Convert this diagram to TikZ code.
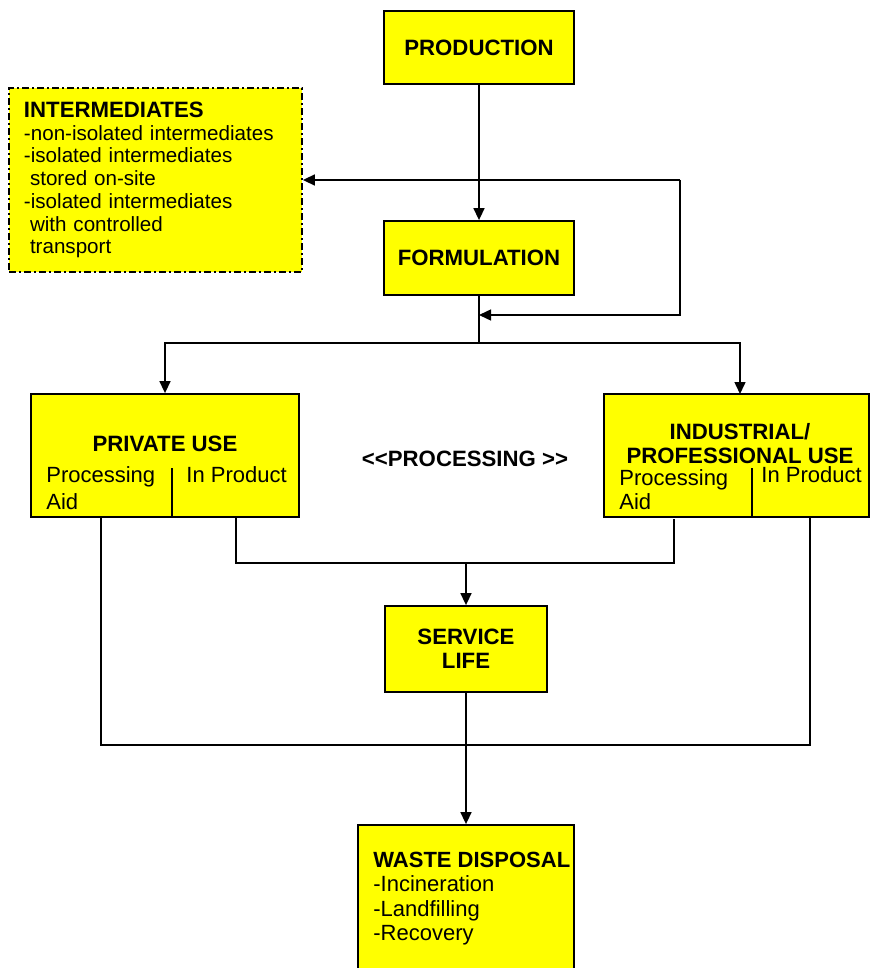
\documentclass[tikz,border=0pt]{standalone}
\usepackage{fontspec}
\setmainfont{Liberation Sans}
\usetikzlibrary{arrows.meta, positioning}
\definecolor{BoxYellow}{RGB}{255,255,0}
\tikzset{
  >={Triangle[length=6pt,width=5.5pt]},
  % Riquadri
  box/.style={draw=black,line width=0.9pt,fill=BoxYellow,inner sep=0pt},
  box dashdot/.style={box,dash pattern=on 3.5pt off 1.5pt on 1pt off 1.5pt},
  % Testi
  head/.style={inner sep=0pt,font=\fontsize{11.1}{12}\selectfont\bfseries},
  body/.style={inner sep=0pt,font=\fontsize{11}{12}\selectfont},
  % Connessioni
  wire/.style={line width=0.75pt},
  link/.style={wire,->}
}

\begin{document}
\begin{tikzpicture}[x=0.5pt,y=-0.5pt]
    \useasboundingbox (0,0) rectangle (870,968);
    % fasi principali
    \node[box,head,minimum width=95pt,minimum height=36.5pt] (prod) at (479,47.5) {PRODUCTION};
    \node[box,head,minimum width=95pt,minimum height=37pt] (form) at (479,258) {FORMULATION};
    \node[box dashdot,minimum width=146.5pt,minimum height=92pt,text width=131.5pt,align=left,inner xsep=7.5pt,
          font=\fontsize{10.3}{11.35}\selectfont] (inter) at (155.5,180)
      {{\fontsize{11.1}{11.35}\selectfont\bfseries INTERMEDIATES}\\-non-isolated intermediates\\-isolated intermediates\\
       \hspace*{3pt}stored on-site\\-isolated intermediates\\\hspace*{3pt}with controlled\\\hspace*{3pt}transport};
    \node[box,minimum width=134pt,minimum height=61.5pt] (priv) at (165,455.5) {};
    \node[box,minimum width=132.5pt,minimum height=61.5pt] (indu) at (736.5,455.5) {};
    \node[box,head,align=center,minimum width=81pt,minimum height=43pt] (serv) at (466,649) {SERVICE\\LIFE};
    \node[box,minimum width=108pt,minimum height=80pt] (waste) at (466,905) {};
    % testi interni
    \node[head] (privT) at (165,444) {PRIVATE USE};
    \node[body,anchor=west,align=left,font=\fontsize{11}{13.5}\selectfont] (privA) at (46,488.5) {Processing\\Aid};
    \node[body,anchor=west] (privP) at (186,475) {In Product};
    \node[head,align=center] (induT) at (740,444) {INDUSTRIAL/\\PROFESSIONAL USE};
    \node[body,anchor=west,align=left] (induA) at (619,490) {Processing\\Aid};
    \node[body,anchor=west] (induP) at (761,475) {In Product};
    \node[head] (procT) at (465,459) {<{}<PROCESSING >{}>};
    \node[body,anchor=west,align=left,font=\fontsize{11}{12.2}\selectfont] (wasteT) at (373,898.5)
      {{\bfseries WASTE DISPOSAL}\\-Incineration\\-Landfilling\\-Recovery};
    \coordinate (privDiv) at (172,468);
    \coordinate (induDiv) at (752,468);
    \draw[wire] (privDiv) -- (privDiv |- priv.south);
    \draw[wire] (induDiv) -- (induDiv |- indu.south);
    % collegamenti
    \coordinate (loopTop) at (680,180);
    \coordinate (loopBot) at (680,315);
    \coordinate (split) at (479,343);
    \coordinate (induIn) at (740,394);
    \draw[link] (prod) -- (form);
    \draw[link] (loopTop) -- (inter.east);
    \draw[link] (loopTop) -- (loopBot) -- (form.south |- loopBot);
    \draw[wire] (form) -- (split);
    \draw[link] (split) -| (priv);
    \draw[link] (split) -| (induIn);
    \coordinate (privAid) at (101,517);
    \coordinate (privProd) at (236,517);
    \coordinate (induAid) at (674,519);
    \coordinate (induProd) at (810,517);
    \coordinate (merge) at (466,563);
    \coordinate (collect) at (466,745);
    \draw[wire] (privProd) |- (merge) -| (induAid);
    \draw[link] (merge) -- (serv);
    \draw[wire] (privAid) |- (collect) -| (induProd);
    \draw[link] (serv) -- (waste);
\end{tikzpicture}
\end{document}
